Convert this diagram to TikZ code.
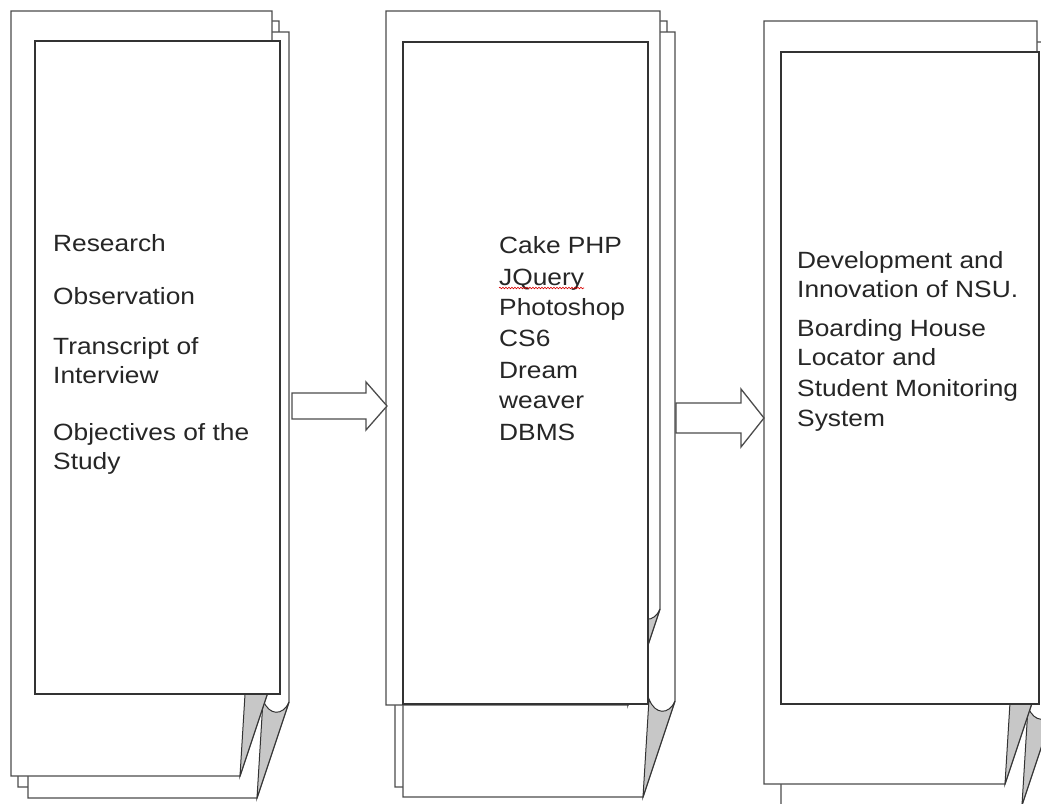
\documentclass[tikz,border=0pt]{standalone}
\usepackage{fontspec}
\newfontfamily\boxfont[FakeStretch=1.12]{Liberation Sans}
\usetikzlibrary{decorations.pathmorphing}

% page with a curled lower right corner: left, top, right, bottom
\newcommand{\curlpage}[4]{%
  \filldraw[page] (#1,#2) -- (#3,#2) -- (#3,#4-96) -- (#3-32,#4) -- (#1,#4) -- cycle;
  \filldraw[flap] (#3-32,#4) -- (#3-26,#4-98) .. controls (#3-20,#4-82) and (#3-6,#4-82) .. (#3,#4-96) -- cycle;
}
% block arrow: left, head, tip, centre, shaft half, head half
\newcommand{\blockarrow}[6]{%
  \filldraw[arrowbox] (#1,#4-#5) -- (#2,#4-#5) -- (#2,#4-#6) -- (#3,#4)
    -- (#2,#4+#6) -- (#2,#4+#5) -- (#1,#4+#5) -- cycle;
}

\begin{document}
\begin{tikzpicture}[x=1pt,y=-1pt,
  page/.style={draw=black!70,fill=white,line width=1.3pt,line join=miter},
  flap/.style={draw=black!80,fill=black!22,line width=1pt},
  textbox/.style={draw=black!80,fill=white,line width=1.2pt},
  arrowbox/.style={draw=black!70,fill=white,line width=1.3pt},
  item/.style={font=\boxfont\fontsize{23.5}{30}\selectfont,text=black!85,anchor=base west,inner sep=0pt},
  spell/.style={draw=red!85!black,line width=0.6pt,decorate,decoration={snake,amplitude=0.8pt,segment length=3pt}}]
  \useasboundingbox (0,0) rectangle (1041,803);
  \clip (0,0) rectangle (1041,803);

  % first stack
  \curlpage{18}{21}{279}{787}
  \curlpage{28}{32}{289}{798}
  \curlpage{11}{11}{272}{776}
  \filldraw[textbox] (35,41) rectangle (280,694);
  \foreach \y/\t [count=\i] in {251/Research, 304/Observation, 354/Transcript of,
      383/Interview, 440/Objectives of the, 469/Study}
    \node[item] (a\i) at (53,\y) {\t};

  % second stack
  \curlpage{395}{21}{667}{787}
  \curlpage{403}{32}{675}{797}
  \curlpage{386}{11}{660}{705}
  \filldraw[textbox] (403,42) rectangle (648,704);
  \foreach \y/\t [count=\i] in {253/Cake PHP, 285/JQuery, 315/Photoshop, 346/CS6,
      378/Dream, 408/weaver, 440/DBMS}
    \node[item] (b\i) at (499,\y) {\t};
  \draw[spell] ([yshift=-3pt]b2.base west) -- ([yshift=-3pt]b2.base east);

  % third stack
  \curlpage{781}{42}{1054}{805}
  \curlpage{764}{21}{1037}{784}
  \filldraw[textbox] (781,52) rectangle (1039,704);
  \foreach \y/\t [count=\i] in {268/Development and, 297/Innovation of NSU.,
      336/Boarding House, 365/Locator and, 396/Student Monitoring, 426/System}
    \node[item] (c\i) at (797,\y) {\t};

  % arrows
  \blockarrow{292}{366}{387}{406}{13}{24}
  \blockarrow{676}{741}{764}{418}{15}{29}
\end{tikzpicture}
\end{document}
